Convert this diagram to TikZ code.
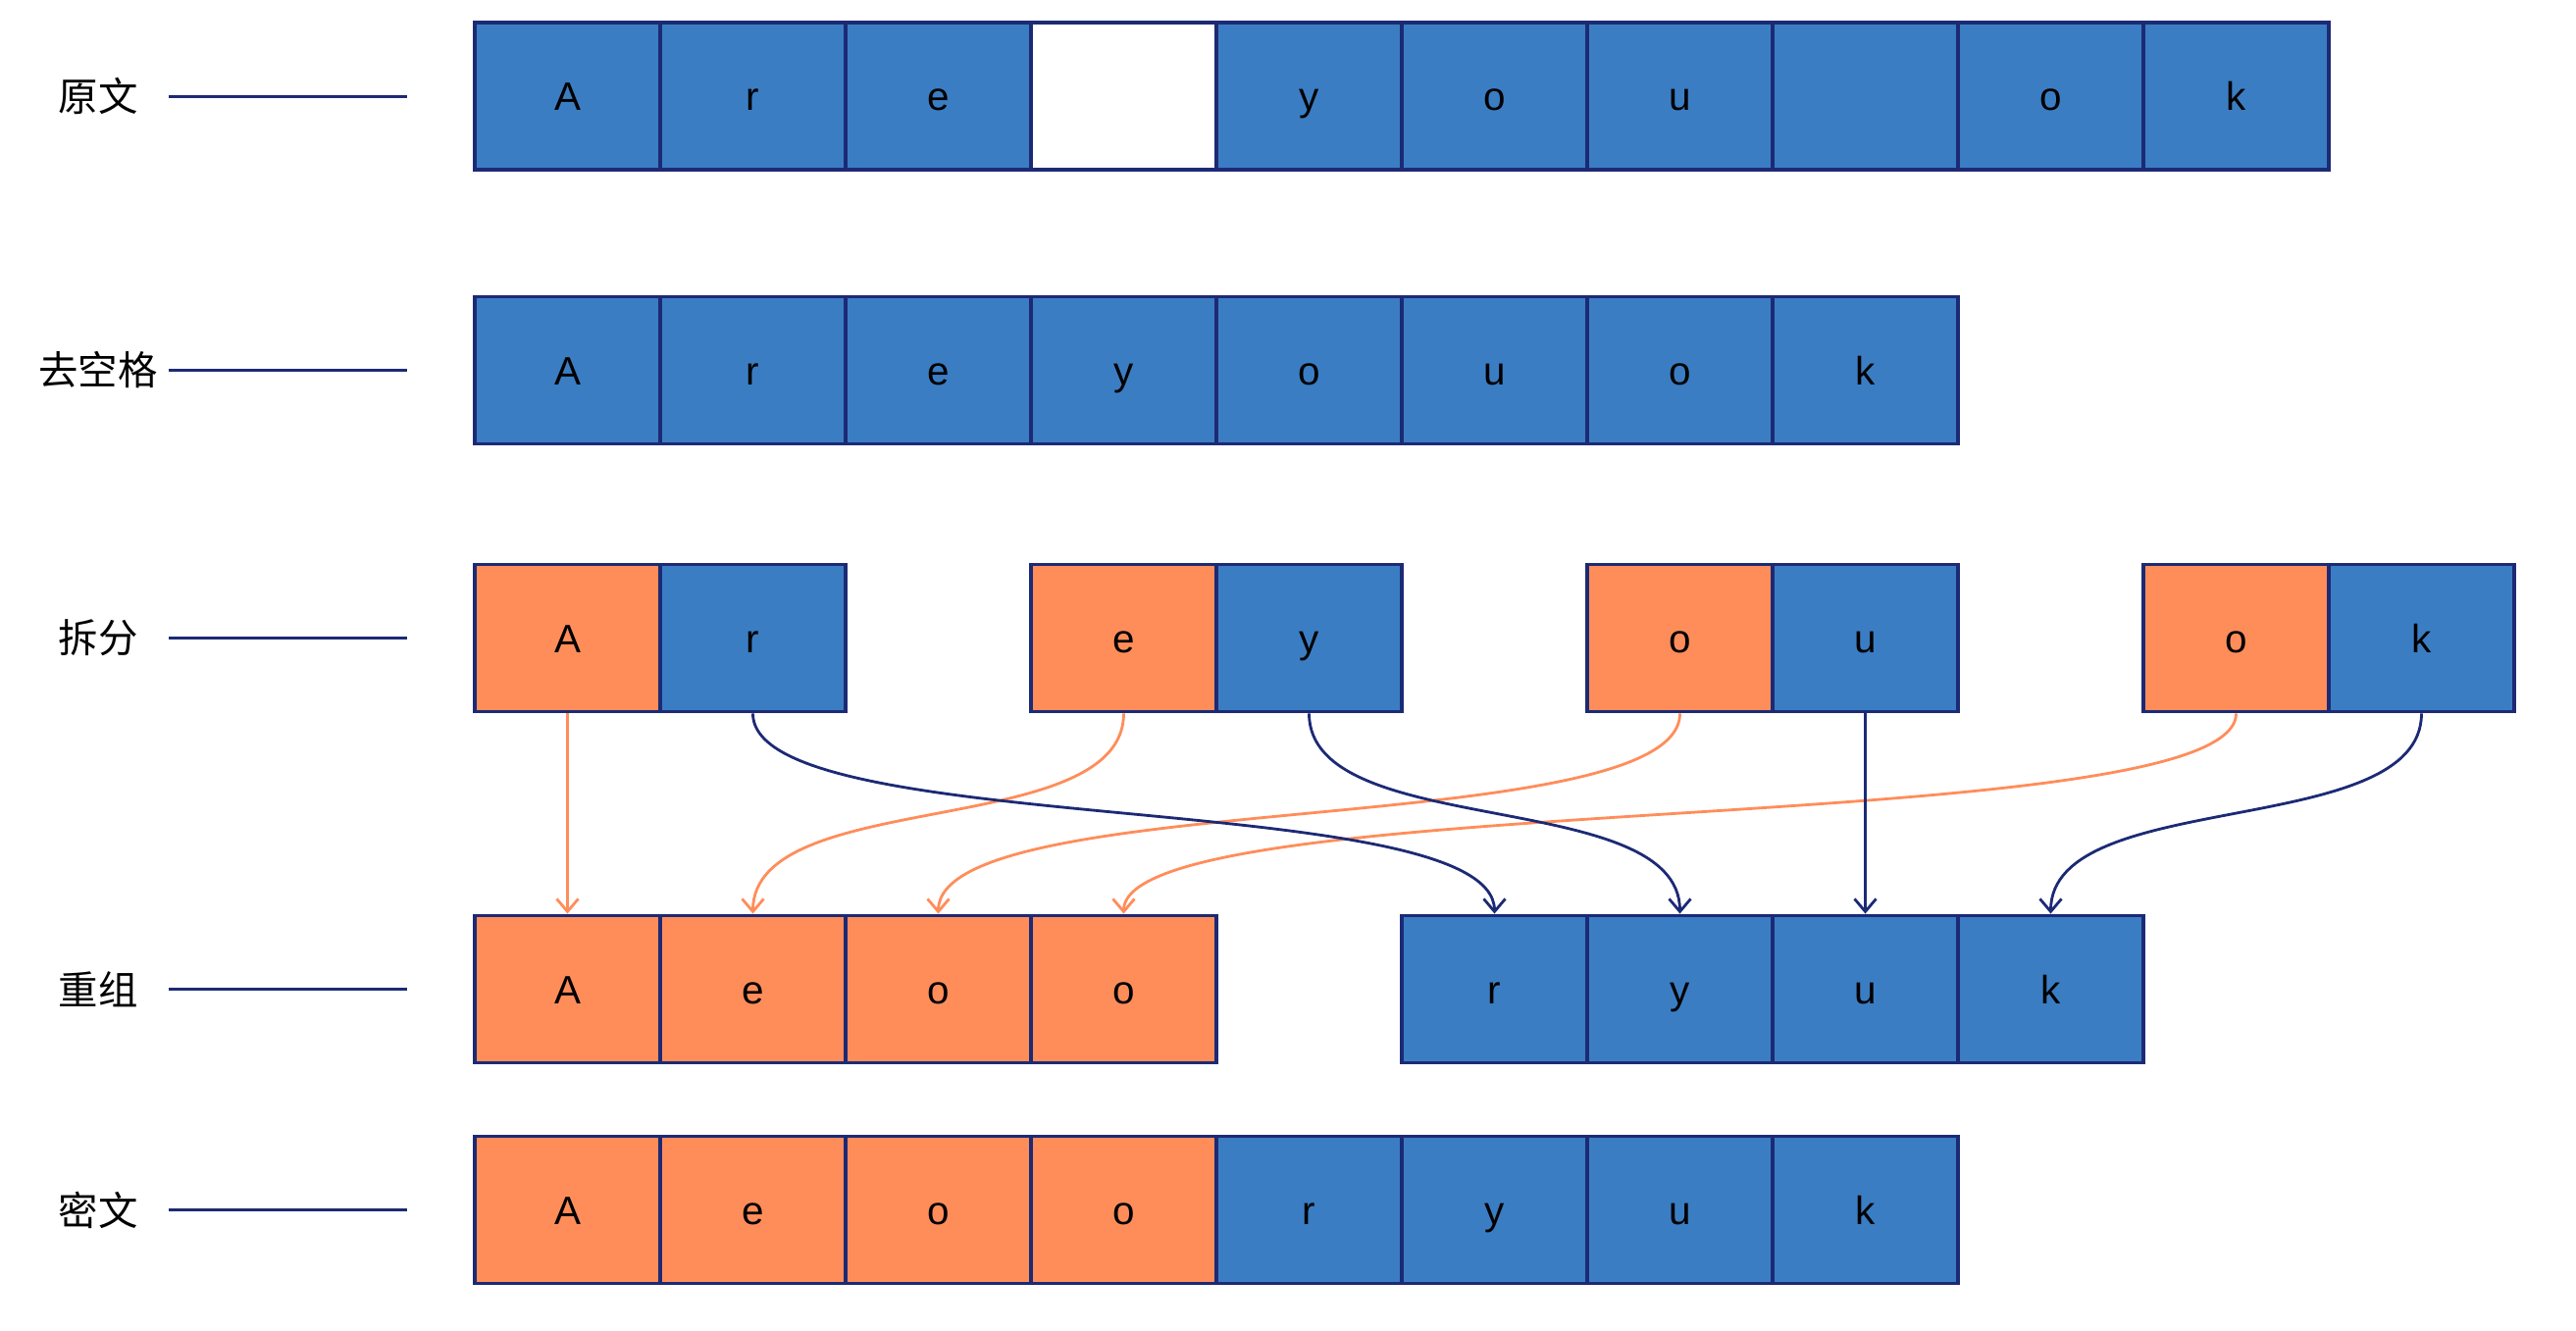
\documentclass[tikz,border=0pt]{standalone}
\usepackage{fontspec}
\setmainfont{Liberation Sans}
\newfontfamily\cjk{Noto Sans CJK SC}
\usepackage{tikz}
\usetikzlibrary{arrows.meta}
\definecolor{cellblue}{RGB}{59,125,195}
\definecolor{cellorange}{RGB}{255,141,90}
\definecolor{navy}{RGB}{28,42,117}

\begin{document}
\begin{tikzpicture}[x=1cm,y=1cm,
  cell/.style={draw=navy,line width=1.1pt,minimum width=1.89cm,minimum height=1.5cm,
    inner sep=0pt,text height=2.9mm,text depth=0pt,font=\fontsize{11.5}{14}\selectfont},
  bluecell/.style={cell,fill=cellblue},
  orangecell/.style={cell,fill=cellorange},
  whitecell/.style={cell,fill=white},
  rowlabel/.style={font=\cjk\fontsize{11.5}{14}\selectfont},
  guide/.style={draw=navy,line width=0.85pt},
  blueflow/.style={draw=navy,line width=0.8pt,-{Straight Barb[length=1.3mm,width=2.2mm]}},
  orangeflow/.style={draw=cellorange,line width=0.8pt,-{Straight Barb[length=1.3mm,width=2.2mm]}}]
\useasboundingbox (0,0) rectangle (26.26,-13.56);
% row labels
\node[rowlabel] (lab1) at (1.0,-0.98) {原文};
\node[rowlabel] (lab2) at (1.0,-3.775) {去空格};
\node[rowlabel] (lab3) at (1.0,-6.505) {拆分};
\node[rowlabel] (lab4) at (1.0,-10.085) {重组};
\node[rowlabel] (lab5) at (1.0,-12.335) {密文};
\draw[guide] (lab1.center) ++(0.72,0) -- ++(2.43,0);
\draw[guide] (lab2.center) ++(0.72,0) -- ++(2.43,0);
\draw[guide] (lab3.center) ++(0.72,0) -- ++(2.43,0);
\draw[guide] (lab4.center) ++(0.72,0) -- ++(2.43,0);
\draw[guide] (lab5.center) ++(0.72,0) -- ++(2.43,0);
% plain text
\node[bluecell] (orig0) at (5.785,-0.98) {A};
\node[bluecell] (orig1) at (7.675,-0.98) {r};
\node[bluecell] (orig2) at (9.565,-0.98) {e};
\node[whitecell] (orig3) at (11.455,-0.98) {};
\node[bluecell] (orig4) at (13.345,-0.98) {y};
\node[bluecell] (orig5) at (15.235,-0.98) {o};
\node[bluecell] (orig6) at (17.125,-0.98) {u};
\node[bluecell] (orig7) at (19.015,-0.98) {};
\node[bluecell] (orig8) at (20.905,-0.98) {o};
\node[bluecell] (orig9) at (22.795,-0.98) {k};
% spaces removed
\node[bluecell] (trim0) at (5.785,-3.775) {A};
\node[bluecell] (trim1) at (7.675,-3.775) {r};
\node[bluecell] (trim2) at (9.565,-3.775) {e};
\node[bluecell] (trim3) at (11.455,-3.775) {y};
\node[bluecell] (trim4) at (13.345,-3.775) {o};
\node[bluecell] (trim5) at (15.235,-3.775) {u};
\node[bluecell] (trim6) at (17.125,-3.775) {o};
\node[bluecell] (trim7) at (19.015,-3.775) {k};
% split into pairs
\node[orangecell] (split0) at (5.785,-6.505) {A};
\node[bluecell] (split1) at (7.675,-6.505) {r};
\node[orangecell] (split2) at (11.455,-6.505) {e};
\node[bluecell] (split3) at (13.345,-6.505) {y};
\node[orangecell] (split4) at (17.125,-6.505) {o};
\node[bluecell] (split5) at (19.015,-6.505) {u};
\node[orangecell] (split6) at (22.795,-6.505) {o};
\node[bluecell] (split7) at (24.685,-6.505) {k};
% regrouped
\node[orangecell] (group0) at (5.785,-10.085) {A};
\node[orangecell] (group1) at (7.675,-10.085) {e};
\node[orangecell] (group2) at (9.565,-10.085) {o};
\node[orangecell] (group3) at (11.455,-10.085) {o};
\node[bluecell] (group4) at (15.235,-10.085) {r};
\node[bluecell] (group5) at (17.125,-10.085) {y};
\node[bluecell] (group6) at (19.015,-10.085) {u};
\node[bluecell] (group7) at (20.905,-10.085) {k};
% cipher text
\node[orangecell] (ciph0) at (5.785,-12.335) {A};
\node[orangecell] (ciph1) at (7.675,-12.335) {e};
\node[orangecell] (ciph2) at (9.565,-12.335) {o};
\node[orangecell] (ciph3) at (11.455,-12.335) {o};
\node[bluecell] (ciph4) at (13.345,-12.335) {r};
\node[bluecell] (ciph5) at (15.235,-12.335) {y};
\node[bluecell] (ciph6) at (17.125,-12.335) {u};
\node[bluecell] (ciph7) at (19.015,-12.335) {k};
% moves
\draw[orangeflow] (split0.south) .. controls +(0,-1.3) and +(0,1.3) .. (group0.north);
\draw[orangeflow] (split2.south) .. controls +(0,-1.3) and +(0,1.3) .. (group1.north);
\draw[orangeflow] (split4.south) .. controls +(0,-1.3) and +(0,1.3) .. (group2.north);
\draw[orangeflow] (split6.south) .. controls +(0,-1.3) and +(0,1.3) .. (group3.north);
\draw[blueflow] (split1.south) .. controls +(0,-1.3) and +(0,1.3) .. (group4.north);
\draw[blueflow] (split3.south) .. controls +(0,-1.3) and +(0,1.3) .. (group5.north);
\draw[blueflow] (split5.south) .. controls +(0,-1.3) and +(0,1.3) .. (group6.north);
\draw[blueflow] (split7.south) .. controls +(0,-1.3) and +(0,1.3) .. (group7.north);
\end{tikzpicture}
\end{document}
